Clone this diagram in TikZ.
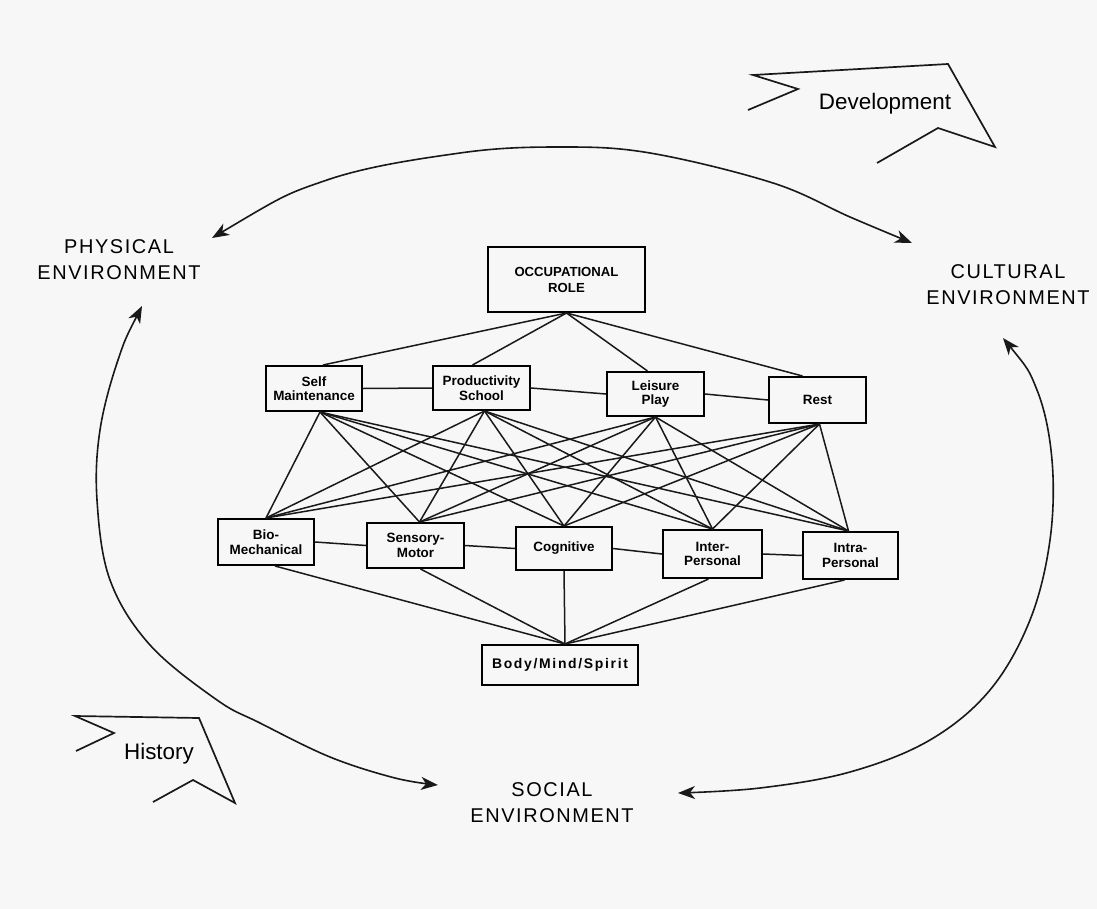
\documentclass[tikz,border=0pt]{standalone}
\usepackage{fontspec}
\setmainfont{Liberation Sans}
\usetikzlibrary{arrows.meta}
\begin{document}
\begin{tikzpicture}[x=1bp,y=-1bp,
  box/.style={draw=black, line width=2bp, align=center, inner sep=0pt,
    font=\bfseries\fontsize{13.5}{14.5}\selectfont, text=black},
  lnk/.style={line width=1.5bp, draw=black!90},
  envarc/.style={line width=1.6bp, draw=black!90,
    {Stealth[length=17bp,width=13bp,inset=5bp]}-{Stealth[length=17bp,width=13bp,inset=5bp]}},
  envlbl/.style={font=\fontsize{20}{26}\selectfont\addfontfeature{LetterSpace=8}, align=center, text=black},
  banner/.style={line width=1.7bp, draw=black!90, line join=miter},
  bannertxt/.style={font=\fontsize{22.5}{25}\selectfont, text=black}
]
\fill[white!97!black] (0,0) rectangle (1097,909);
\useasboundingbox (0,0) rectangle (1097,909);

% boxes
\node[box, minimum width=157bp, minimum height=65bp, font=\bfseries\fontsize{13.2}{16}\selectfont] (occ) at (566.5,279.5) {OCCUPATIONAL\\ROLE};
\node[box, minimum width=96bp, minimum height=45bp] (self) at (314,388.5) {Self\\Maintenance};
\node[box, minimum width=97bp, minimum height=44bp] (prod) at (481.5,388) {Productivity\\School};
\node[box, minimum width=97bp, minimum height=44bp] (leis) at (655.5,394) {Leisure\\Play};
\node[box, minimum width=97bp, minimum height=46bp] (rest) at (817.5,400) {Rest};
\node[box, minimum width=96bp, minimum height=46bp] (bio) at (266,542) {Bio-\\Mechanical};
\node[box, minimum width=97bp, minimum height=45bp] (sens) at (415.5,545.5) {Sensory-\\Motor};
\node[box, minimum width=96bp, minimum height=43bp] (cog) at (564,548.5) {Cognitive};
\node[box, minimum width=99bp, minimum height=48bp] (inter) at (712.5,554) {Inter-\\Personal};
\node[box, minimum width=95bp, minimum height=47bp] (intra) at (850.5,555.5) {Intra-\\Personal};
\node[box, minimum width=156bp, minimum height=40bp, font=\bfseries\fontsize{14}{16}\selectfont\addfontfeature{LetterSpace=12}] (body) at (560,665) {Body/Mind/Spirit};

% anchor points
\coordinate (selfT) at ([xshift=9bp]self.north);
\coordinate (prodT) at ([xshift=-9bp]prod.north);
\coordinate (leisT) at ([xshift=-8bp]leis.north);
\coordinate (restT) at ([xshift=-15bp]rest.north);
\coordinate (selfB) at ([xshift=6bp]self.south);
\coordinate (prodB) at ([xshift=3bp]prod.south);
\coordinate (leisB) at (leis.south);
\coordinate (restB) at ([xshift=2bp]rest.south);
\coordinate (bioT) at (bio.north);
\coordinate (sensT) at ([xshift=4bp]sens.north);
\coordinate (cogT) at (cog.north);
\coordinate (interT) at (inter.north);
\coordinate (intraT) at ([xshift=-2bp]intra.north);
\coordinate (bioB) at ([xshift=9bp]bio.south);
\coordinate (sensB) at ([xshift=5bp]sens.south);
\coordinate (cogB) at (cog.south);
\coordinate (interB) at ([xshift=-4bp]inter.south);
\coordinate (intraB) at ([xshift=-6bp]intra.south);
\coordinate (bodyT) at ([xshift=5bp]body.north);

% occupational role to areas
\foreach \u in {self,prod,leis,rest} \draw[lnk] (occ.south) -- (\u T);
% horizontal links
\draw[lnk] (self.east) -- (prod.west);
\draw[lnk] (prod.east) -- (leis.west);
\draw[lnk] (leis.east) -- (rest.west);
\draw[lnk] (bio.east) -- (sens.west);
\draw[lnk] (sens.east) -- (cog.west);
\draw[lnk] (cog.east) -- (inter.west);
\draw[lnk] (inter.east) -- (intra.west);
% areas to components
\foreach \u in {self,prod,leis,rest}
  \foreach \l in {bio,sens,cog,inter,intra}
    \draw[lnk] (\u B) -- (\l T);
% components to body/mind/spirit
\foreach \l in {bio,sens,cog,inter,intra} \draw[lnk] (\l B) -- (bodyT);

% environment labels
\node[envlbl] (phys) at (119,260) {PHYSICAL\\ENVIRONMENT};
\node[envlbl] (cult) at (1008,285) {CULTURAL\\ENVIRONMENT};
\node[envlbl] (soc) at (552,803) {SOCIAL\\ENVIRONMENT};

% arcs
\coordinate (physR) at (212,238);
\coordinate (physD) at (142,306);
\coordinate (cultL) at (912,243);
\coordinate (cultD) at (1003,338);
\coordinate (socL) at (438,785);
\coordinate (socR) at (678,793);
\draw[envarc] plot[smooth, tension=0.6] coordinates {(physR) (327,180) (460,153) (560,147) (650,153) (773,183) (850,217) (cultL)};
\draw[envarc] plot[smooth, tension=0.6] coordinates {(physD) (118,360) (100,430) (97,500) (110,580) (150,645) (217,700) (260,723) (330,757) (395,778) (socL)};
\draw[envarc] plot[smooth, tension=0.6] coordinates {(cultD) (1037,390) (1052,460) (1050,540) (1030,620) (990,690) (930,740) (850,772) (760,788) (socR)};

% banners
\draw[banner] (748,110) -- (798,89) -- (753,75) -- (948,64) -- (995,147) -- (938,128) -- (877,163);
\node[bannertxt] (dev) at (885,104) {Development};
\draw[banner] (76,751) -- (114,733) -- (75,716) -- (199,718) -- (235,803) -- (193,780) -- (153,802);
\node[bannertxt] (hist) at (159,754) {History};
\end{tikzpicture}
\end{document}
